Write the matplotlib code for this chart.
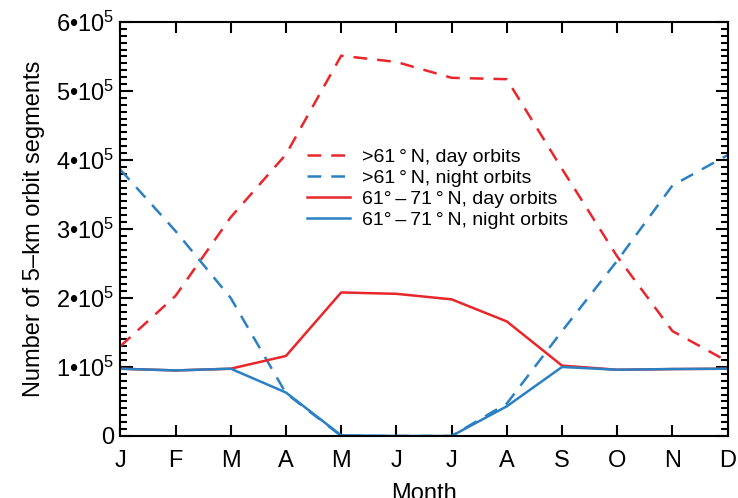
import matplotlib.pyplot as plt
from matplotlib.ticker import MultipleLocator, FuncFormatter

# --- Data (counts in units of 1e5) ---
months = ['J', 'F', 'M', 'A', 'M', 'J', 'J', 'A', 'S', 'O', 'N', 'D']
day_north = [1.30, 2.03, 3.17, 4.08, 5.51, 5.42, 5.19, 5.17, 3.87, 2.60, 1.52, 1.08]
night_north = [3.86, 2.97, 2.00, 0.62, 0.0, 0.0, 0.0, 0.47, 1.52, 2.54, 3.63, 4.07]
day_band = [0.975, 0.95, 0.975, 1.16, 2.08, 2.06, 1.98, 1.66, 1.02, 0.96, 0.97, 0.975]
night_band = [0.975, 0.95, 0.975, 0.63, 0.01, 0.0, 0.0, 0.43, 1.0, 0.96, 0.97, 0.975]

labels = ['>61\u2009°\u2009N, day orbits', '>61\u2009°\u2009N, night orbits',
          '61°\u2009\u2013\u200971\u2009°\u2009N, day orbits', '61°\u2009\u2013\u200971\u2009°\u2009N, night orbits']

RED = '#e8262b'
BLUE = '#2b80c2'

plt.rcParams['font.family'] = ['Liberation Sans', 'DejaVu Sans']
plt.rcParams['mathtext.fontset'] = 'custom'
plt.rcParams['mathtext.rm'] = 'Liberation Sans'

fig = plt.figure(figsize=(7.38, 4.98), dpi=100)
ax = fig.add_axes([0.163, 0.1245, 0.823, 0.8315])

x = list(range(len(months)))
scale = 1e5
dash = (0, (5.5, 4))
lw = 1.8
ax.plot(x, [v * scale for v in day_north], color=RED, lw=lw, ls=dash, label=labels[0])
ax.plot(x, [v * scale for v in night_north], color=BLUE, lw=lw, ls=dash, label=labels[1])
ax.plot(x, [v * scale for v in day_band], color=RED, lw=lw, label=labels[2])
ax.plot(x, [v * scale for v in night_band], color=BLUE, lw=lw, label=labels[3])

ax.set_xlim(0, 11)
ax.set_ylim(0, 6e5)
ax.set_xticks(x)
ax.set_xticklabels(months)
ax.yaxis.set_major_locator(MultipleLocator(1e5))
ax.yaxis.set_minor_locator(MultipleLocator(1e4))


def sci_fmt(v, pos):
    n = int(round(v / 1e5))
    if n == 0:
        return '0'
    return r'$\mathregular{%d•10^{5}}$' % n


ax.yaxis.set_major_formatter(FuncFormatter(sci_fmt))

ax.tick_params(axis='both', which='both', direction='in', top=True, right=True,
               labelsize=17, width=1.5)
ax.tick_params(axis='y', which='major', length=9, pad=4)
ax.tick_params(axis='y', which='minor', length=5)
ax.tick_params(axis='x', which='major', length=8, pad=10)
for s in ax.spines.values():
    s.set_linewidth(1.5)

ax.set_ylabel('Number of 5\u2013km orbit segments', fontsize=17, labelpad=8)
ax.set_xlabel('Month', fontsize=17, labelpad=8)

ax.legend(loc='upper left', bbox_to_anchor=(0.3076, 0.695), frameon=False, fontsize=14,
          handlelength=2.2, handletextpad=0.6, labelspacing=0.17,
          borderpad=0, borderaxespad=0)

plt.savefig('out.png', dpi=100)
